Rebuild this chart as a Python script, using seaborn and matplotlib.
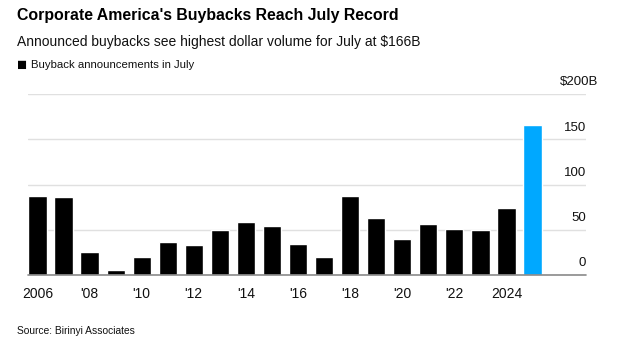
"""
Buyback announcements in July, 2006-2025 (bar chart recreation).
"""
import matplotlib
matplotlib.use("Agg")
import matplotlib.pyplot as plt
import seaborn as sns
import pandas as pd

sns.set_style("white")
plt.rcParams["font.family"] = ["Liberation Sans", "DejaVu Sans"]

# ====================== DATA ======================
years = list(range(2006, 2026))
buybacks = [87.5, 86.5, 25.7, 5.1, 19.5, 36.0, 33.0, 49.3, 58.8, 54.4,
            33.8, 19.5, 87.5, 63.2, 40.0, 55.9, 50.4, 49.3, 74.3, 166.0]
highlight = ["past"] * 19 + ["latest"]
xtick_labels = ["2006", "'08", "'10", "'12", "'14", "'16", "'18", "'20", "'22", "2024"]
yticks = [0, 50, 100, 150, 200]
ytick_labels = ["0", "50", "100", "150", "$200B"]

df = pd.DataFrame({"year": years, "value": buybacks, "group": highlight})

# ====================== PLOT ======================
fig = plt.figure(figsize=(6.24, 3.5), dpi=100)
ax = fig.add_axes([0.045, 0.2143, 0.894, 0.5171])

sns.barplot(data=df, x="year", y="value", hue="group",
            palette={"past": "#000000", "latest": "#00A8FF"},
            saturation=1, width=0.7, dodge=False, legend=False, ax=ax, zorder=3)

ax.set_xlim(-0.36, 21.05)
ax.set_ylim(0, 200)
sns.despine(ax=ax, left=True, bottom=True, right=True, top=True)

# grid + baseline
ax.set_yticks(yticks)
ax.set_yticklabels([])
ax.tick_params(axis="y", length=0)
ax.grid(axis="y", color="#e0e0e0", lw=1, zorder=0)
ax.axhline(0, color="#8a8a8a", lw=1.2, zorder=4, clip_on=False)

# y labels sit above the gridlines at the right end ("B" of the top one hangs over)
for v, lab in zip(yticks, ytick_labels):
    dx = 8.6 if lab.endswith("B") else 0
    ax.annotate(lab, xy=(1.0, v), xycoords=("axes fraction", "data"),
                xytext=(dx, 4), textcoords="offset points",
                ha="right", va="bottom", fontsize=9.5, color="#111111",
                annotation_clip=False)

ax.set_xticks(range(0, 19, 2))
ax.set_xticklabels(xtick_labels, fontsize=10, color="#111111")
ax.tick_params(axis="x", length=4, width=1, color="#8a8a8a", pad=5)
ax.set_xlabel("")
ax.set_ylabel("")

# titles and legend
fig.text(0.027, 0.957, "Corporate America's Buybacks Reach July Record",
         fontsize=11.4, fontweight="bold", va="center", color="#000000")
fig.text(0.027, 0.88, "Announced buybacks see highest dollar volume for July at $166B",
         fontsize=10.0, va="center", color="#111111")
fig.text(0.027, 0.814, "\u25A0", fontsize=12, va="center", color="#000000")
fig.text(0.050, 0.814, "Buyback announcements in July",
         fontsize=8.2, va="center", color="#111111")
fig.text(0.027, 0.054, "Source: Birinyi Associates",
         fontsize=7.4, va="center", color="#111111")

plt.savefig("out.png", dpi=100)
plt.close()
